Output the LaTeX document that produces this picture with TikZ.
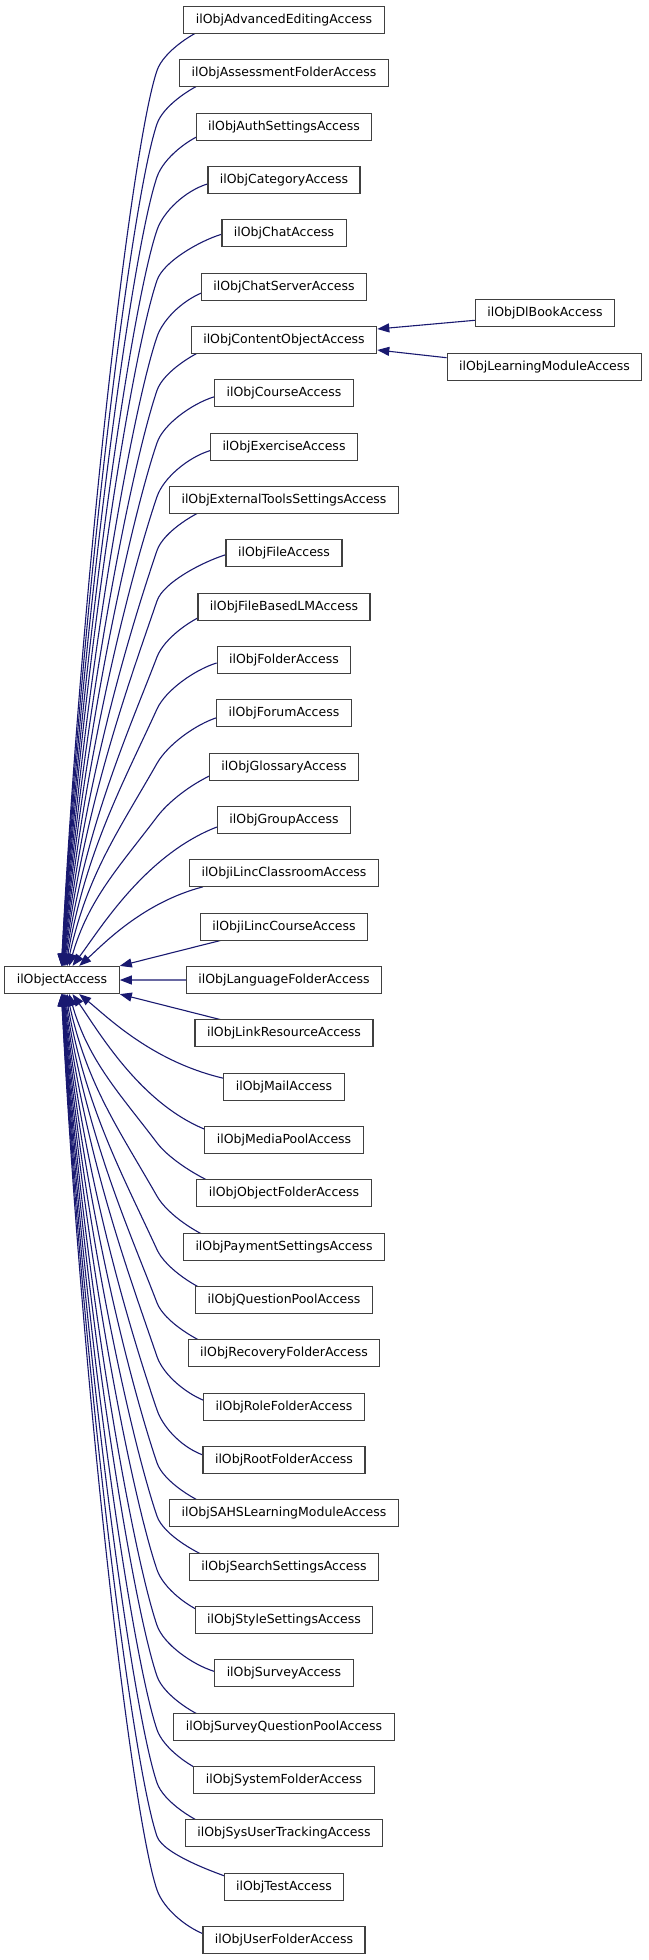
\documentclass[tikz,border=0pt]{standalone}
\usepackage{fontspec}
\setmainfont{DejaVu Sans}
\usetikzlibrary{arrows.meta,calc,backgrounds}
\definecolor{edgeblue}{HTML}{191970}
\definecolor{boxline}{HTML}{404040}
\tikzset{
  box/.style={draw=boxline, line width=1.2pt, fill=white, rectangle,
    minimum height=27pt, inner xsep=12pt, inner ysep=0pt,
    font=\fontsize{12.5}{15}\selectfont},
  edge/.style={draw=edgeblue, line width=1.1pt,
    -{Triangle[length=12pt,width=9pt]}}
}
\begin{document}
\begin{tikzpicture}[x=1pt,y=-1pt]
\useasboundingbox (0,0) rectangle (648,1960);
\node[box] (obj) at (62,980) {ilObjectAccess};
\foreach \i/\t in {0/AdvancedEditing,1/AssessmentFolder,2/AuthSettings,3/Category,4/Chat,5/ChatServer,6/ContentObject,7/Course,8/Exercise,9/ExternalToolsSettings,10/File,11/FileBasedLM,12/Folder,13/Forum,14/Glossary,15/Group,16/iLincClassroom,17/iLincCourse,18/LanguageFolder,19/LinkResource,20/Mail,21/MediaPool,22/ObjectFolder,23/PaymentSettings,24/QuestionPool,25/RecoveryFolder,26/RoleFolder,27/RootFolder,28/SAHSLearningModule,29/SearchSettings,30/StyleSettings,31/Survey,32/SurveyQuestionPool,33/SystemFolder,34/SysUserTracking,35/Test,36/UserFolder}{
  \node[box] (n\i) at (284,{20+\i*53.3333}) {ilObj\t Access};
}
\node[box] (dl) at (545,313.3) {ilObjDlBookAccess};
\node[box] (lm) at (544.5,366.7) {ilObjLearningModuleAccess};
\begin{pgfonlayer}{background}
% far curved edges (start inside the box, hidden by its white fill)
\foreach \i/\dx/\dy/\s/\a in {0/0/13.5/1/north,1/5/13.5/1/north,2/0/8.5/1/north,3/0/4/1/north,4/0/1/1/north,5/0/6/1/north,6/0/12/1/north,7/0/3.5/1/north,8/0/4/1/north,9/17/13.5/1/north,10/0/1.5/1/north,11/0/9/1/north,12/0/3/1/north,13/0/4.5/1/north,14/0/8/1/north,22/0/-13.5/-1/south,23/6/-13.5/-1/south,24/0/-11/-1/south,25/0/-13.5/-1/south,26/0/-6/-1/south,27/0/-5/-1/south,28/17/-13.5/-1/south,29/0/-13.5/-1/south,30/0/-9/-1/south,31/0/-2/-1/south,32/11/-13.5/-1/south,33/0/-10/-1/south,34/0/-13.5/-1/south,35/0/-10/-1/south,36/0/-6/-1/south}{
  \pgfmathsetmacro\w{max(0,abs(\dy)-4)/9.5}
  \pgfmathsetmacro\vx{\dx+32*\w}
  \pgfmathsetmacro\vy{\dy-\s*9*\w}
  \pgfmathsetmacro\tya{20+\i*53.3333+\vy+46*\s}
  \pgfmathsetmacro\h{abs(980-13.5*\s-\tya)}
  \pgfmathsetmacro\ex{55+40/abs(18-\i)}
  \pgfmathsetmacro\k{(157-5-\ex)/\h}
  \pgfmathsetmacro\m{max(0.34,1.3*\k)}
  \pgfmathsetmacro\L{min(74,\h/3)}
  \draw[edge] ($(n\i.west)+(\vx,\vy)$)
     .. controls +(-22,{6.75*\s}) and +({18.6*\m},{-18.6*\s}) .. (157,\tya)
     .. controls +({-\m*\L},{\L*\s}) and +({0.225*(152-\ex)},{-0.45*\s*\h}) ..
     ($(obj.\a\space west)+(\ex,0)$);
}
% near curved edges
\draw[edge] ($(n15.west)+(0,7)$) .. controls +(-72,27.9) and +(27.3,-36.3) .. ($(obj.north west)+(68.3,0)$);
\draw[edge] ($(n16.west)+(14,13.5)$) .. controls +(-61,15.9) and +(23.2,-20.7) .. ($(obj.north west)+(75,0)$);
\draw[edge] ($(n20.west)+(0,-8.5)$) .. controls +(-72,-16.9) and +(27.4,22) .. ($(obj.south west)+(75,0)$);
\draw[edge] ($(n21.west)+(0,-11)$) .. controls +(-65.4,-27.1) and +(24.8,35.2) .. ($(obj.south west)+(68.3,0)$);
% straight edges
\draw[edge] ($(n17.west)+(22,13.5)$) -- (obj.north east);
\draw[edge] (n18.west) -- (obj.east);
\draw[edge] ($(n19.west)+(27,-13.5)$) -- (obj.south east);
\draw[edge] ($(dl.west)+(0,7)$) -- ($(n6.east)+(0,-11)$);
\draw[edge] ($(lm.west)+(0,-9)$) -- ($(n6.east)+(0,10)$);
\end{pgfonlayer}
\end{tikzpicture}
\end{document}
